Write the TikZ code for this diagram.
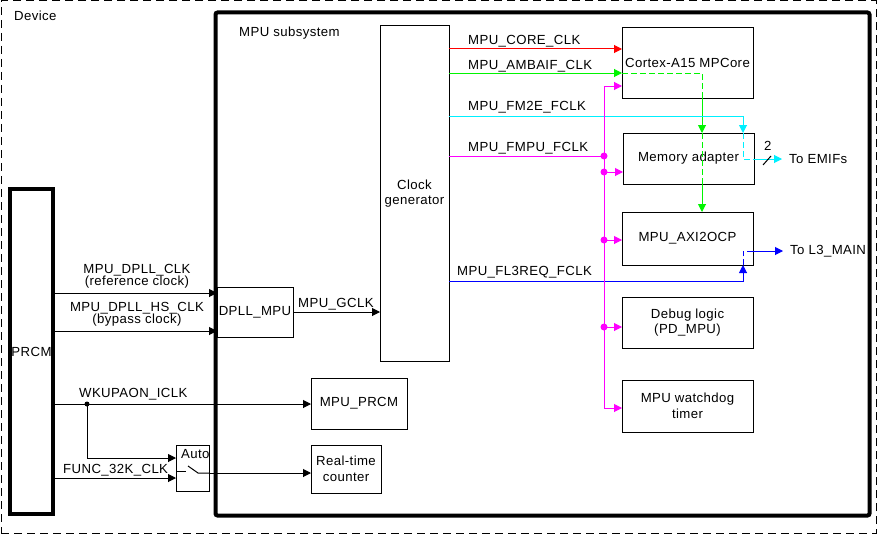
\documentclass[tikz,border=0pt]{standalone}
\usepackage{fontspec}
\setmainfont{Liberation Sans}[LetterSpace=3]
\usetikzlibrary{arrows.meta}
\definecolor{cred}{RGB}{255,0,0}
\definecolor{cgrn}{RGB}{0,245,0}
\definecolor{cmag}{RGB}{255,0,255}
\definecolor{ccyn}{RGB}{0,240,255}
\definecolor{cblu}{RGB}{0,0,255}
\newcommand\lblfont{\fontsize{13.2}{15.5}\selectfont}
\begin{document}
\begin{tikzpicture}[x=1pt,y=-1pt, font=\lblfont,
  box/.style={draw, line width=1pt, outer sep=0pt, inner sep=0pt, anchor=north west, align=center},
  lbl/.style={inner sep=0pt, anchor=base west},
  lblc/.style={inner sep=0pt, anchor=base},
  conn/.style={line width=1pt, -{Triangle[length=8pt,width=8pt]}},
  wire/.style={line width=1pt},
  dsh/.style={line width=1pt, dash pattern=on 6pt off 3pt},
  ]
\useasboundingbox (0,0) rectangle (877,535);
% frames
\node[box, dash pattern=on 8pt off 5pt, minimum width=875pt, minimum height=532pt] (device) at (1,1) {};
\node[box, line width=4pt, rounded corners=2pt, minimum width=654pt, minimum height=503pt] (mpu) at (215.5,12.5) {};
\node[box, line width=4pt, minimum width=43pt, minimum height=325pt] (prcm) at (10,189) {PRCM};
% blocks
\node[box, minimum width=69pt, minimum height=335pt] (cg) at (380,26) {Clock\\generator};
\node[box, minimum width=131pt, minimum height=70pt] (cortex) at (622,28) {Cortex-A15 MPCore};
\node[box, minimum width=131pt, minimum height=51pt] (memad) at (623,133) {Memory adapter};
\node[box, minimum width=131pt, minimum height=53pt] (axi) at (622,212) {MPU\_AXI2OCP};
\node[box, minimum width=131pt, minimum height=51pt] (debug) at (622,297) {Debug logic\\(PD\_MPU)};
\node[box, minimum width=131pt, minimum height=52pt] (wdt) at (622,380) {MPU watchdog\\timer};
\node[box, minimum width=76pt, minimum height=50pt] (dpll) at (217,287) {DPLL\_MPU};
\node[box, minimum width=96pt, minimum height=51pt] (mpuprcm) at (311,378) {MPU\_PRCM};
\node[box, minimum width=70pt, minimum height=48pt] (rtc) at (311,445) {Real-time\\counter};
\node[box, minimum width=33pt, minimum height=46pt] (auto) at (176,445) {};
% labels
\node[lbl] at (14,21) {Device};
\node[lbl] at (239,37) {MPU subsystem};
\node[lbl] at (468,45) {MPU\_CORE\_CLK};
\node[lbl] at (468,69) {MPU\_AMBAIF\_CLK};
\node[lbl] at (468,110) {MPU\_FM2E\_FCLK};
\node[lbl] at (468,151) {MPU\_FMPU\_FCLK};
\node[lbl] at (457,275) {MPU\_FL3REQ\_FCLK};
\node[lblc] at (137,273.5) {MPU\_DPLL\_CLK};
\node[lblc] at (137,285) {(reference clock)};
\node[lblc] at (137,311.5) {MPU\_DPLL\_HS\_CLK};
\node[lblc] at (137,323.5) {(bypass clock)};
\node[lbl] at (298,307) {MPU\_GCLK};
\node[lbl] at (79,397) {WKUPAON\_ICLK};
\node[lbl] at (63,473) {FUNC\_32K\_CLK};
\node[lbl] at (181,458) {Auto};
\node[lbl] at (764,150) {2};
\node[inner sep=0pt, anchor=west] (emif) at (789,159) {To EMIFs};
\node[inner sep=0pt, anchor=west] (l3) at (790,251) {To L3\_MAIN};
% red
\draw[conn, cred] (cg.east|-0,49) -- (cortex.west|-0,49);
% green
\draw[conn, cgrn] (cg.east|-0,73) -- (cortex.west|-0,73);
\draw[dsh, cgrn] (cortex.west|-0,73) -- (702,73) -- (cortex.south-|702,0);
\draw[conn, cgrn] (cortex.south-|702,0) -- (memad.north-|702,0);
\draw[dsh, cgrn] (memad.north-|702,0) -- (memad.south-|702,0);
\draw[conn, cgrn] (memad.south-|702,0) -- (axi.north-|702,0);
% cyan
\draw[conn, ccyn] (cg.east|-0,116) -- (743,116) -- (memad.north-|743,0);
\draw[dsh, ccyn] (memad.north-|743,0) -- (743,159) -- (memad.east|-0,159);
\draw[conn, ccyn] (memad.east|-0,159) -- ([xshift=-7pt]emif.west);
\draw[wire] (763,165) -- (771,156);
% blue
\draw[conn, cblu] (cg.east|-0,281) -- (743,281) -- (axi.south-|743,0);
\draw[dsh, cblu] (axi.south-|743,0) -- (743,251) -- (axi.east|-0,251);
\draw[conn, cblu] (axi.east|-0,251) -- ([xshift=-7pt]l3.west);
% magenta
\coordinate (mj) at (604,156);
\coordinate (m1) at (604,172);
\coordinate (m2) at (604,240);
\coordinate (m3) at (604,327);
\draw[wire, cmag] (cg.east|-mj) -- (mj);
\draw[conn, cmag] (mj) -- (604,86) -- (cortex.west|-0,86);
\draw[conn, cmag] (mj) -- (604,408) -- (wdt.west|-0,408);
\draw[conn, cmag] (m1) -- (memad.west|-m1);
\draw[conn, cmag] (m2) -- (axi.west|-m2);
\draw[conn, cmag] (m3) -- (debug.west|-m3);
\foreach \p in {mj,m1,m2,m3} \fill[cmag] (\p) circle (3.5pt);
% black clocks
\draw[conn] (prcm.east|-0,293) -- (dpll.west|-0,293);
\draw[conn] (prcm.east|-0,331) -- (dpll.west|-0,331);
\draw[conn] (dpll.east|-0,312) -- (cg.west|-0,312);
\coordinate (wj) at (87,404);
\draw[conn] (prcm.east|-wj) -- (mpuprcm.west|-wj);
\draw[conn] (wj) -- (87,458) -- (auto.west|-0,458);
\fill (wj) circle (2.5pt);
\draw[conn] (prcm.east|-0,478) -- (auto.west|-0,478);
\draw[wire] (auto.west|-0,471) -- (186,471);
\draw[wire] (188,466) -- (198,473) -- (auto.east|-0,473);
\draw[conn] (auto.east|-0,473) -- (rtc.west|-0,473);
\end{tikzpicture}
\end{document}
